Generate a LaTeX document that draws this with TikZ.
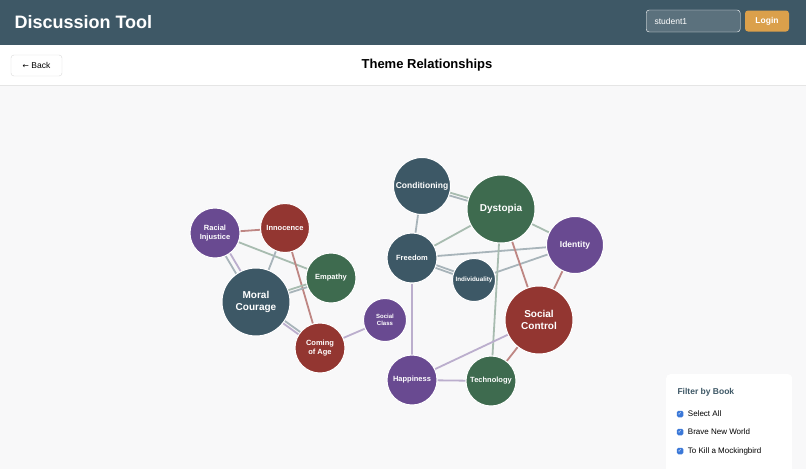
\documentclass[tikz,border=0pt]{standalone}
\usepackage{fontspec}
\setmainfont{Liberation Sans}
\newfontfamily\symfont{DejaVu Sans}
\usetikzlibrary{positioning, backgrounds}
\definecolor{headbg}{HTML}{3E5866}
\definecolor{pagebg}{HTML}{F8F8F9}
\definecolor{cteal}{HTML}{3D5866}
\definecolor{cgreen}{HTML}{3E6B4F}
\definecolor{cred}{HTML}{933631}
\definecolor{cpurple}{HTML}{694A91}
\definecolor{corange}{HTML}{DBA04B}
\definecolor{cblue}{HTML}{3B78D8}
\tikzset{
  theme/.style={circle, draw=white, line width=1pt, text=white, font=\bfseries\fontsize{7.5}{8.5}\selectfont, align=center, inner sep=0pt},
  tealnode/.style={theme, fill=cteal},
  greennode/.style={theme, fill=cgreen},
  rednode/.style={theme, fill=cred},
  purplenode/.style={theme, fill=cpurple},
  link/.style={line width=1.8pt},
  tlink/.style={link, draw=cteal!45},
  glink/.style={link, draw=cgreen!45},
  rlink/.style={link, draw=cred!60},
  plink/.style={link, draw=cpurple!45},
  chk/.style={rounded corners=1.5pt, fill=cblue, minimum size=6.5pt, inner sep=0pt, text=white, font=\fontsize{5}{5}\selectfont}
}
\begin{document}
\begin{tikzpicture}[x=1pt, y=-1pt]
    \useasboundingbox (0,0) rectangle (806,469);
    %Page
    \begin{scope}[on background layer]
    \fill[pagebg] (0,0) rectangle (806,469);
    \end{scope}
    \fill[headbg] (0,0) rectangle (806,45);
    \fill[white] (0,45) rectangle (806,85);
    \draw[black!10] (0,85) -- (806,85);
    \node[anchor=west, text=white, font=\bfseries\fontsize{18}{21}\selectfont] (apptitle) at (11,22) {Discussion Tool};
    \node[draw=white!60, fill=white!15!headbg, rounded corners=3pt, minimum width=94pt, minimum height=22pt, anchor=west] (userbox) at (646,21) {};
    \node[anchor=west, text=white, font=\fontsize{8.5}{10}\selectfont] (username) at (651,21) {student1};
    \node[fill=corange, rounded corners=3pt, minimum width=44pt, minimum height=21pt, text=white, font=\bfseries\fontsize{8.5}{10}\selectfont] (login) at (767,21) {Login};
    \node[draw=black!15, fill=white, rounded corners=3pt, minimum width=51pt, minimum height=21pt, font=\fontsize{8.5}{10}\selectfont] (back) at (36.5,65.5) {{\symfont\fontsize{7.5}{8}\selectfont ←} Back};
    \node[font=\bfseries\fontsize{13}{15}\selectfont] (pagetitle) at (427,65) {Theme Relationships};

    %Nodes
    \node[purplenode, minimum size=50pt] (racial) at (215,233) {Racial\\Injustice};
    \node[rednode, minimum size=49pt] (innocence) at (285,228) {Innocence};
    \node[greennode, minimum size=50pt] (empathy) at (331,278) {Empathy};
    \node[tealnode, minimum size=68pt, font=\bfseries\fontsize{10}{12}\selectfont] (moral) at (256,302) {Moral\\Courage};
    \node[rednode, minimum size=50pt] (coming) at (320,348) {Coming\\of Age};
    \node[purplenode, minimum size=43pt, font=\bfseries\fontsize{6}{7.5}\selectfont] (class) at (385,320) {Social\\Class};
    \node[tealnode, minimum size=57pt, font=\bfseries\fontsize{8.5}{10}\selectfont] (conditioning) at (422,186) {Conditioning};
    \node[greennode, minimum size=68pt, font=\bfseries\fontsize{10}{12}\selectfont] (dystopia) at (501,209) {Dystopia};
    \node[purplenode, minimum size=57pt, font=\bfseries\fontsize{8.5}{10}\selectfont] (identity) at (575,245) {Identity};
    \node[tealnode, minimum size=50pt] (freedom) at (412,258) {Freedom};
    \node[tealnode, minimum size=43pt, font=\bfseries\fontsize{6.3}{7}\selectfont] (individuality) at (474,280) {Individuality};
    \node[rednode, minimum size=68pt, font=\bfseries\fontsize{10}{12}\selectfont] (control) at (539,320) {Social\\Control};
    \node[purplenode, minimum size=50pt] (happiness) at (412,380) {Happiness};
    \node[greennode, minimum size=50pt] (technology) at (491,381) {Technology};

    %Lines
    \begin{scope}[on background layer]
    \draw[rlink] (racial) -- (innocence);
    \draw[tlink] ([xshift=-3pt]racial.center) -- ([xshift=-3pt]moral.center);
    \draw[plink] ([xshift=3pt]racial.center) -- ([xshift=3pt]moral.center);
    \draw[glink] (racial) -- (empathy);
    \draw[tlink] (innocence) -- (moral);
    \draw[rlink] (innocence) -- (coming);
    \draw[tlink] ([yshift=-1.5pt]moral.center) -- ([yshift=-1.5pt]empathy.center);
    \draw[glink] ([yshift=1.5pt]moral.center) -- ([yshift=1.5pt]empathy.center);
    \draw[tlink] ([xshift=2.5pt]moral.center) -- ([xshift=2.5pt]coming.center);
    \draw[plink] ([xshift=-2.5pt]moral.center) -- ([xshift=-2.5pt]coming.center);
    \draw[plink] (coming) -- (class);
    \draw[tlink] ([yshift=-1.5pt]conditioning.center) -- ([yshift=-1.5pt]dystopia.center);
    \draw[glink] ([yshift=1.5pt]conditioning.center) -- ([yshift=1.5pt]dystopia.center);
    \draw[tlink] (conditioning) -- (freedom);
    \draw[glink] (freedom) -- (dystopia);
    \draw[tlink] (freedom) -- (identity);
    \draw[tlink] ([yshift=-1.5pt]freedom.center) -- ([yshift=-1.5pt]individuality.center);
    \draw[tlink] ([yshift=1.5pt]freedom.center) -- ([yshift=1.5pt]individuality.center);
    \draw[tlink] (individuality) -- (identity);
    \draw[glink] (dystopia) -- (identity);
    \draw[rlink] (dystopia) -- (control);
    \draw[glink] (dystopia) -- (technology);
    \draw[rlink] (identity) -- (control);
    \draw[plink] (freedom) -- (happiness);
    \draw[plink] (happiness) -- (control);
    \draw[plink] (happiness) -- (technology);
    \draw[rlink] (technology) -- (control);
    \end{scope}

    %Filter
    \node[fill=white, rounded corners=4pt, minimum width=126pt, minimum height=100pt, anchor=north west] (filter) at (666,374) {};
    \node[anchor=west, text=headbg, font=\bfseries\fontsize{8.5}{10}\selectfont] (filtertitle) at (674,392) {Filter by Book};
    \node[chk] (chk1) at (680,414) {\symfont ✓};
    \node[chk] (chk2) at (680,432) {\symfont ✓};
    \node[chk] (chk3) at (680,451) {\symfont ✓};
    \node[right=1pt of chk1, font=\fontsize{8}{9}\selectfont] (opt1) {Select All};
    \node[right=1pt of chk2, font=\fontsize{8}{9}\selectfont] (opt2) {Brave New World};
    \node[right=1pt of chk3, font=\fontsize{8}{9}\selectfont] (opt3) {To Kill a Mockingbird};
\end{tikzpicture}
\end{document}
